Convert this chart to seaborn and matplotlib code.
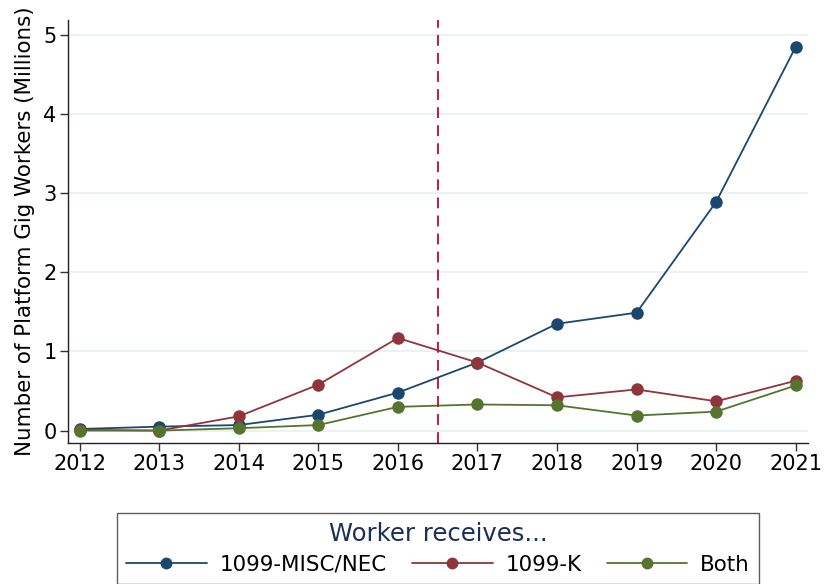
import pandas as pd
import numpy as np
import matplotlib.pyplot as plt
import seaborn as sns

# data (millions of workers)
years = [2012, 2013, 2014, 2015, 2016, 2017, 2018, 2019, 2020, 2021]
misc_nec = [0.02, 0.05, 0.07, 0.20, 0.48, 0.86, 1.35, 1.49, 2.89, 4.85]
form_k = [0.01, 0.00, 0.18, 0.58, 1.17, 0.86, 0.42, 0.52, 0.37, 0.63]
both = [0.00, 0.00, 0.03, 0.07, 0.30, 0.33, 0.32, 0.19, 0.24, 0.57]
series_names = ["1099-MISC/NEC", "1099-K", "Both"]
colors = ["#1a476f", "#90353b", "#55752f"]

df = pd.DataFrame(
    {
        "year": years * 3,
        "workers": misc_nec + form_k + both,
        "form": np.repeat(series_names, len(years)),
    }
)

sns.set_style("white")
plt.rcParams["font.family"] = ["DejaVu Sans"]

fig = plt.figure(figsize=(8.25, 5.84), dpi=100)
ax = fig.add_axes([0.082, 0.241, 0.897, 0.725])

sns.lineplot(
    data=df,
    x="year",
    y="workers",
    hue="form",
    hue_order=series_names,
    palette=colors,
    marker="o",
    markersize=9,
    markeredgewidth=0,
    linewidth=1.3,
    ax=ax,
    legend=False,
)

ax.axvline(2016.5, color="#c10534", linestyle=(0, (6, 4)), linewidth=1.3)

# grid + axes styling
ax.set_yticks([0, 1, 2, 3, 4, 5])
ax.set_xticks(years)
ax.yaxis.grid(True, color="#eaf2f3", linewidth=1.5)
ax.set_axisbelow(True)
ax.set_xlim(2011.85, 2021.15)
ax.set_ylim(-0.16, 5.19)
for side in ["top", "right"]:
    ax.spines[side].set_visible(False)
for side in ["left", "bottom"]:
    ax.spines[side].set_color("#222222")
    ax.spines[side].set_linewidth(1.0)
ax.tick_params(axis="both", direction="out", length=6, width=1, color="#333333",
               labelsize=15, labelcolor="black", left=True, bottom=True, pad=2)
ax.set_xlabel("")
ax.set_ylabel("Number of Platform Gig Workers (Millions)", fontsize=15.4,
              color="black", labelpad=6)

# legend below the plot (box runs off the bottom edge like the original)
handles = [
    plt.Line2D([], [], color=c, marker="o", markersize=7.5, linewidth=1.3)
    for c in colors
]
leg = fig.legend(
    handles,
    series_names,
    loc="lower center",
    bbox_to_anchor=(0.531, -0.019),
    ncol=3,
    title="Worker receives...",
    fontsize=15.4,
    title_fontsize=17.5,
    labelcolor="black",
    frameon=True,
    fancybox=False,
    handlelength=3.75,
    handletextpad=0.6,
    columnspacing=1.2,
    borderpad=0.45,
    labelspacing=0.4,
)
leg.get_title().set_color("#1a2f5a")
leg.get_frame().set_edgecolor("#333333")
leg.get_frame().set_linewidth(1.0)

plt.savefig("out.png", dpi=100)
